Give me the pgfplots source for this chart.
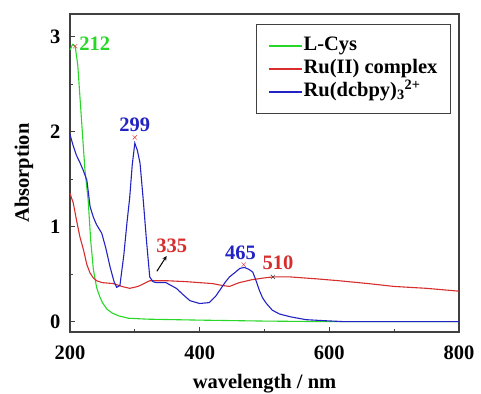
\documentclass[border=0pt]{standalone}
\usepackage{pgfplots}
\pgfplotsset{compat=1.18}
\usepackage{fontspec}
\setmainfont{Liberation Serif}
\definecolor{cgreen}{RGB}{40,215,40}
\definecolor{cred}{RGB}{215,45,45}
\definecolor{cblue}{RGB}{35,35,195}
\newcommand{\bigf}{\fontsize{20.5}{22}\selectfont\bfseries}
\begin{document}
\begin{tikzpicture}
\useasboundingbox (-70pt,-61pt) rectangle (411pt,332pt);
\begin{axis}[
  scale only axis, width=389pt, height=318pt,
  xmin=200, xmax=800, ymin=-0.11, ymax=3.24,
  xtick={200,400,600,800}, ytick={0,1,2,3},
  minor x tick num=1, minor y tick num=1,
  tick align=inside, xtick pos=bottom, ytick pos=left,
  major tick length=5pt, minor tick length=3pt,
  axis line style={line width=1.2pt, gray!50!black},
  every tick/.style={line width=1pt, gray!50!black},
  tick label style={font=\bigf},
  /pgf/number format/assume math mode=true,
  xticklabel style={yshift=-10pt},
  yticklabel style={xshift=-6pt},
  xlabel={wavelength / nm}, ylabel={Absorption},
  label style={font=\bigf},
  xlabel style={yshift=-8pt},
  ylabel style={yshift=10pt},
  legend style={at={(0.979,0.968)}, anchor=north east, draw=gray!50!black, line width=0.8pt,
    font=\bigf, inner xsep=12pt, inner ysep=10pt, row sep=0pt,
    nodes={inner sep=1pt, text height=15pt, text depth=6pt}},
  legend cell align=left,
  legend image code/.code={\draw[#1, line width=1.3pt] (0pt,0pt) -- (33pt,0pt);},
  clip=false,
]
\addplot[cgreen, line width=1.1pt] coordinates {
(200,2.86)(204,2.92)(208,2.9)(212,2.7)(218,2.1)(223,1.6)(228,1.28)(232,0.85)(236,0.55)(241,0.36)(246,0.26)(250,0.2)(257,0.13)(265,0.09)(275,0.06)(290,0.035)(320,0.025)(360,0.02)(400,0.015)(450,0.01)(500,0.005)(580,0.0)(800,0.0)};
\addlegendentry{L-Cys}
\addplot[cred, line width=1.1pt] coordinates {
(200,1.35)(205,1.25)(210,1.07)(215,0.9)(221,0.75)(226,0.6)(231,0.51)(236,0.46)(241,0.43)(250,0.41)(267,0.40)(280,0.37)(292,0.35)(305,0.37)(323,0.43)(350,0.43)(380,0.42)(400,0.41)(420,0.40)(435,0.38)(446,0.37)(461,0.41)(480,0.44)(500,0.46)(513,0.47)(540,0.47)(580,0.45)(615,0.43)(660,0.40)(700,0.37)(750,0.35)(800,0.32)};
\addlegendentry{Ru(II) complex}
\addplot[cblue, line width=1.1pt] coordinates {
(200,1.97)(205,1.85)(210,1.75)(215,1.68)(220,1.6)(226,1.49)(231,1.21)(236,1.1)(241,1.02)(249,0.93)(255,0.78)(262,0.57)(268,0.42)(272,0.36)(277,0.38)(283,0.7)(288,1.05)(292,1.3)(296,1.65)(300,1.88)(304,1.8)(308,1.67)(313,1.28)(318,0.85)(323,0.47)(328,0.42)(333,0.41)(348,0.41)(356,0.38)(364,0.35)(375,0.28)(385,0.22)(400,0.19)(415,0.2)(425,0.27)(431,0.33)(440,0.42)(446,0.47)(455,0.52)(462,0.56)(469,0.57)(476,0.55)(482,0.52)(487,0.43)(492,0.33)(497,0.25)(503,0.19)(512,0.12)(523,0.08)(540,0.05)(564,0.02)(590,0.01)(620,0)(800,0)};
\addlegendentry{Ru(dcbpy)\textsubscript{3}\textsuperscript{2+}}
\addplot[only marks, mark=x, mark size=3pt, cred, forget plot] coordinates {(208,2.9)(300,1.94)(468,0.6)};
\addplot[only marks, mark=x, mark size=3pt, black!80, forget plot] coordinates {(513,0.47)};
\node[anchor=west, cgreen, font=\bigf, inner sep=0pt] at (axis cs:214,2.93) {212};
\node[anchor=south, cblue, font=\bigf, inner sep=0pt] at (axis cs:300,2.0) {299};
\node[cred, font=\bigf, inner sep=0pt] at (axis cs:357,0.80) {335};
\node[cblue, font=\bigf, inner sep=0pt] at (axis cs:463,0.72) {465};
\node[cred, font=\bigf, inner sep=0pt] at (axis cs:521,0.62) {510};
\draw[-stealth, line width=1pt] (axis cs:334,0.53) -- (axis cs:349,0.69);
\end{axis}
\end{tikzpicture}
\end{document}
